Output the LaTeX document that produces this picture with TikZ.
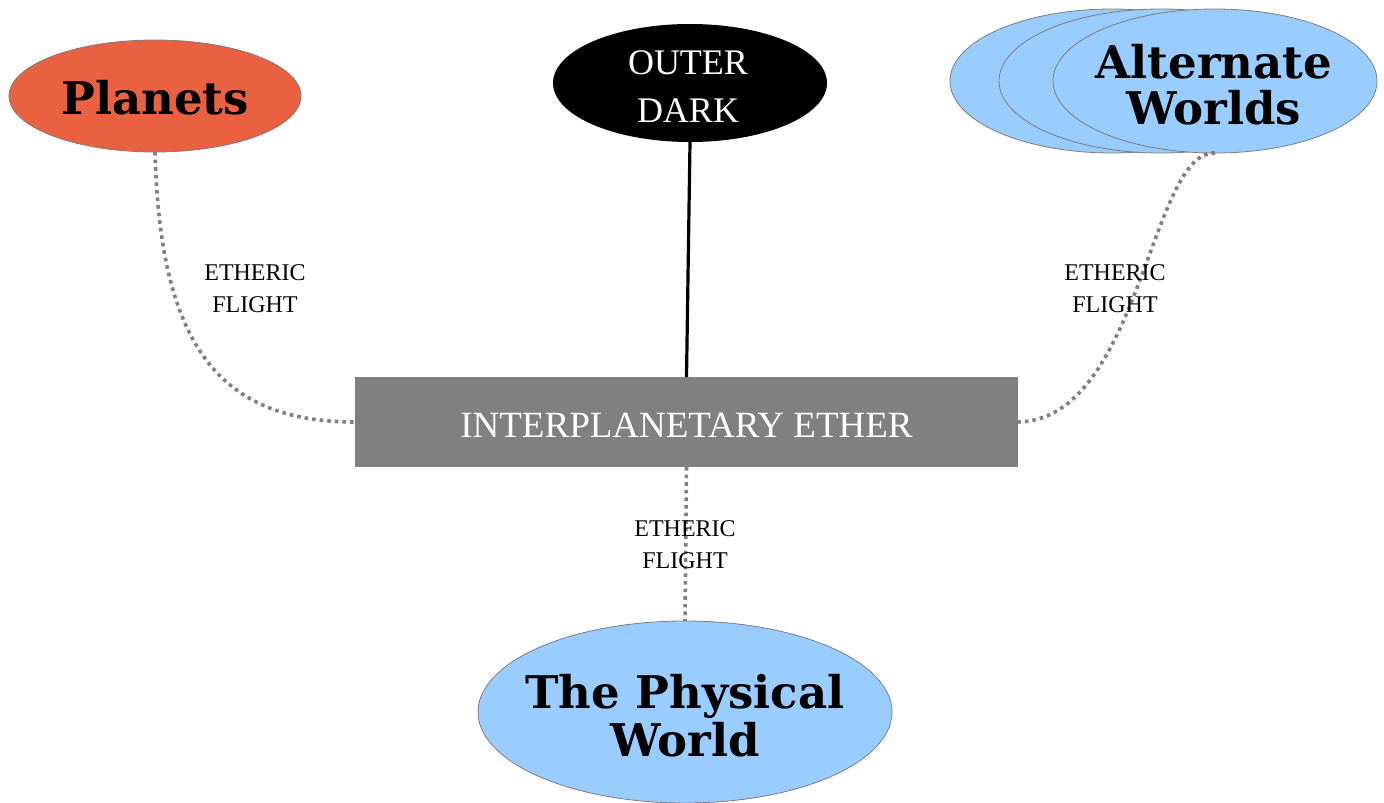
\documentclass[tikz,border=0pt]{standalone}
\usepackage{fontspec}
\setmainfont{Liberation Serif}
\newfontfamily\titlefont{DejaVu Serif}
\usetikzlibrary{shapes.geometric}

\definecolor{planetred}{RGB}{233,97,64}
\definecolor{worldblue}{RGB}{153,204,255}
\definecolor{ethergray}{RGB}{128,128,128}
\definecolor{rimgray}{RGB}{125,125,125}

\tikzset{
  orb/.style={ellipse, draw=rimgray, line width=0.8pt, inner sep=0pt, outer sep=0pt},
  titletext/.style={font=\titlefont\bfseries\fontsize{45}{47}\selectfont, text=black, align=center, inner sep=0pt},
  lighttext/.style={font=\fontsize{37}{48}\selectfont, text=white, align=center, inner sep=0pt},
  flightlabel/.style={font=\fontsize{24}{32}\selectfont, text=black, align=center, inner sep=0pt},
  etheric/.style={draw=ethergray, line width=3.6pt, dash pattern=on 3.6pt off 4pt},
  darkline/.style={draw=black, line width=3.2pt}
}

\begin{document}
\begin{tikzpicture}[x=1pt, y=-1pt]
  \useasboundingbox (0,0) rectangle (1384,803);

  % central ether band
  \node[fill=ethergray, minimum width=663pt, minimum height=90pt, inner sep=0pt, outer sep=0pt]
        (ether) at (686.5,422) {};
  \node[lighttext] (ethertext) at (686.5,425) {INTERPLANETARY ETHER};

  % planets
  \node[orb, fill=planetred, minimum width=292pt, minimum height=112pt] (planets) at (155,96) {};
  \node[titletext] (planetstext) at (155,98) {Planets};

  % outer dark
  \node[ellipse, fill=black, minimum width=274pt, minimum height=118pt, inner sep=0pt, outer sep=0pt]
        (dark) at (690,83) {};
  \node[lighttext, font=\fontsize{36}{48}\selectfont] (darktext) at (688,87) {OUTER\\DARK};

  % stacked alternate worlds
  \node[orb, fill=worldblue, minimum width=324pt, minimum height=144pt] (aw1) at (1112,81) {};
  \node[orb, fill=worldblue, minimum width=324pt, minimum height=144pt] (aw2) at (1161,81) {};
  \node[orb, fill=worldblue, minimum width=324pt, minimum height=144pt] (aw3) at (1215,81) {};
  \node[titletext, font=\titlefont\bfseries\fontsize{45}{46}\selectfont] (awtext) at (1214,85) {Alternate\\Worlds};

  % physical world
  \node[orb, fill=worldblue, minimum width=414pt, minimum height=182pt] (physical) at (685,712) {};
  \node[titletext, font=\titlefont\bfseries\fontsize{45}{48}\selectfont] (physicaltext) at (685,716) {The Physical\\World};

  % connectors
  \draw[darkline] (dark.south) -- (ether.north);
  \draw[etheric] (planets.south) .. controls (160,340) and (215,422) .. (ether.west);
  \draw[etheric] (aw3.south) .. controls (1150,150) and (1140,420) .. (ether.east);
  \draw[etheric] (ether.south) -- (physical.north);

  % connector labels
  \node[flightlabel] (lblleft) at (255,289) {ETHERIC\\FLIGHT};
  \node[flightlabel] (lblright) at (1115,289) {ETHERIC\\FLIGHT};
  \node[flightlabel] (lblbottom) at (685,545) {ETHERIC\\FLIGHT};
\end{tikzpicture}
\end{document}
